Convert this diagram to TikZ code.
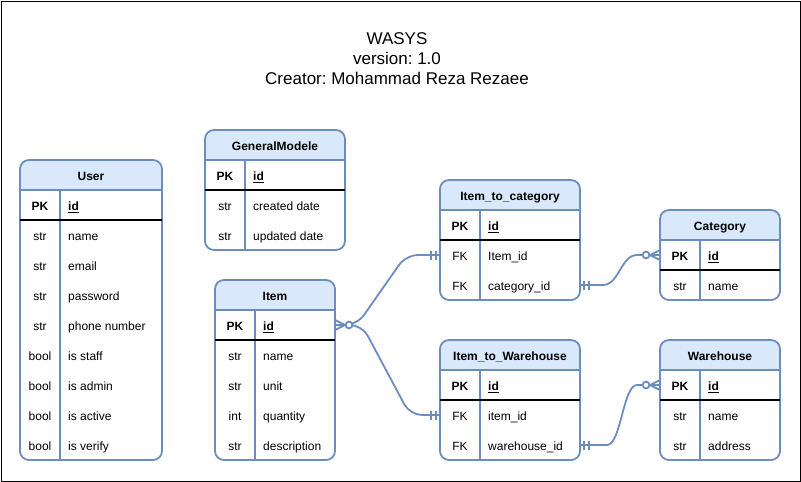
\documentclass[tikz,border=0pt]{standalone}
\usepackage{fontspec}
\setmainfont{Liberation Sans}
\usetikzlibrary{calc}
\frenchspacing
\definecolor{erblue}{HTML}{6C8EBF}
\definecolor{erfill}{HTML}{DAE8FC}
\tikzset{
  tblbox/.style={draw=erblue, line width=1.8pt, rounded corners=9pt, rectangle, inner sep=0pt, outer sep=0pt},
  rowbox/.style={rectangle, inner sep=0pt, outer sep=0pt, minimum height=30pt},
  tblline/.style={draw=erblue, line width=1.7pt},
  pkline/.style={draw=black, line width=1.7pt},
  divline/.style={draw=erblue, line width=1.6pt},
  tbltitle/.style={font=\fontsize{12}{14}\selectfont\bfseries, inner sep=0pt, anchor=base},
  celltxt/.style={font=\fontsize{12}{14}\selectfont, inner sep=0pt, anchor=base},
  conn/.style={draw=erblue, line width=1.8pt},
}
% #1 name, #2 x, #3 y, #4 width, #5 number of rows, #6 title, #7 rows type/name
\newcommand\ertable[7]{%
  \pgfmathsetmacro\ertH{30*(#5+1)}
  \begin{scope}
    \clip[rounded corners=9pt] (#2,#3) rectangle ++(#4,\ertH);
    \fill[erfill] (#2,#3) rectangle ++(#4,30);
  \end{scope}
  \node[tblbox, minimum width=#4pt, minimum height=\ertH pt, anchor=north west] (#1) at (#2,#3) {};
  \node[tbltitle] (#1-title) at (#2+#4/2,#3+20.5) {#6};
  \draw[tblline] (#2,#3+30) -- ++(#4,0);
  \draw[divline] (#2+40,#3+30) -- (#2+40,#3+\ertH);
  \draw[pkline] (#2,#3+60) -- ++(#4,0);
  \foreach \ert/\ern [count=\eri] in {#7} {
    \pgfmathsetmacro\ertyy{#3+30*\eri+15}
    \pgfmathsetmacro\ertbb{#3+30*\eri+20.5}
    \node[rowbox, minimum width=#4pt, anchor=west] (#1-r\eri) at (#2,\ertyy) {};
    \ifnum\eri=1
      \node[celltxt, font=\fontsize{12}{14}\selectfont\bfseries] (#1-k\eri) at (#2+20,\ertbb) {\ert};
      \node[celltxt, font=\fontsize{12}{14}\selectfont\bfseries, anchor=base west] (#1-n\eri) at (#2+48,\ertbb) {\underline{\ern}};
    \else
      \node[celltxt] (#1-k\eri) at (#2+20,\ertbb) {\ert};
      \node[celltxt, anchor=base west] (#1-n\eri) at (#2+48,\ertbb) {\ern};
    \fi
  }%
}
\newcommand\mandoneleft[1]{% two bars left of a west anchor
  \draw[conn] ([xshift=-9pt,yshift=-4.5pt]#1) -- ([xshift=-9pt,yshift=4.5pt]#1);
  \draw[conn] ([xshift=-4pt,yshift=-4.5pt]#1) -- ([xshift=-4pt,yshift=4.5pt]#1);
}
\newcommand\mandoneright[1]{%
  \draw[conn] ([xshift=9pt,yshift=-4.5pt]#1) -- ([xshift=9pt,yshift=4.5pt]#1);
  \draw[conn] ([xshift=4pt,yshift=-4.5pt]#1) -- ([xshift=4pt,yshift=4.5pt]#1);
}
\newcommand\zmanyright[1]{% crow foot opening to the left entity edge
  \draw[conn] ([xshift=10pt]#1) -- ([yshift=5pt]#1);
  \draw[conn] ([xshift=10pt]#1) -- ([yshift=-5pt]#1);
  \draw[conn] ([xshift=10pt]#1) -- (#1);
  \draw[conn, fill=white] ([xshift=14pt]#1) circle (3.4pt);
}
\newcommand\zmanyleft[1]{%
  \draw[conn] ([xshift=-10pt]#1) -- ([yshift=5pt]#1);
  \draw[conn] ([xshift=-10pt]#1) -- ([yshift=-5pt]#1);
  \draw[conn] ([xshift=-10pt]#1) -- (#1);
  \draw[conn, fill=white] ([xshift=-14pt]#1) circle (3.4pt);
}
\begin{document}
\begin{tikzpicture}[x=1pt,y=-1pt]
\useasboundingbox (0,0) rectangle (801,482);
\draw[black, line width=1pt] (1,1) rectangle (800,481);
\node[align=center, font=\fontsize{17}{20}\selectfont, inner sep=0pt] (title) at (397,59)
  {WASYS\\version: 1.0\\Creator: Mohammad Reza Rezaee};

\ertable{user}{20}{160}{142}{9}{User}{PK/id,str/name,str/email,str/password,str/phone number,bool/is staff,bool/is admin,bool/is active,bool/is verify}
\ertable{gm}{205}{130}{140}{3}{GeneralModele}{PK/id,str/created date,str/updated date}
\ertable{item}{215}{280}{120}{5}{Item}{PK/id,str/name,str/unit,int/quantity,str/description}
\ertable{itc}{440}{180}{140}{3}{Item\_to\_category}{PK/id,FK/Item\_id,FK/category\_id}
\ertable{cat}{660}{210}{120}{2}{Category}{PK/id,str/name}
\ertable{itw}{440}{340}{140}{3}{Item\_to\_Warehouse}{PK/id,FK/item\_id,FK/warehouse\_id}
\ertable{wh}{660}{340}{120}{3}{Warehouse}{PK/id,str/name,str/address}

% connectors
\draw[conn, rounded corners=12pt] (item-r1.east) -- ($(item-r1.east)+(22,0)$) -- ($(itc-r2.west)+(-34,0)$) -- (itc-r2.west);
\draw[conn, rounded corners=12pt] (item-r1.east) -- ($(item-r1.east)+(27,0)$) -- ($(itw-r2.west)+(-30,0)$) -- (itw-r2.west);
\draw[conn] (itc-r3.east) -- ($(itc-r3.east)+(23,0)$) .. controls +(16,0) and +(-16,0) .. ($(cat-r1.west)+(-23,0)$) -- (cat-r1.west);
\draw[conn] (itw-r3.east) -- ($(itw-r3.east)+(27,0)$) .. controls +(14,0) and +(-14,0) .. ($(wh-r1.west)+(-23,0)$) -- (wh-r1.west);

\zmanyright{item-r1.east}
\mandoneleft{itc-r2.west}
\mandoneleft{itw-r2.west}
\mandoneright{itc-r3.east}
\mandoneright{itw-r3.east}
\zmanyleft{cat-r1.west}
\zmanyleft{wh-r1.west}
\end{tikzpicture}
\end{document}
